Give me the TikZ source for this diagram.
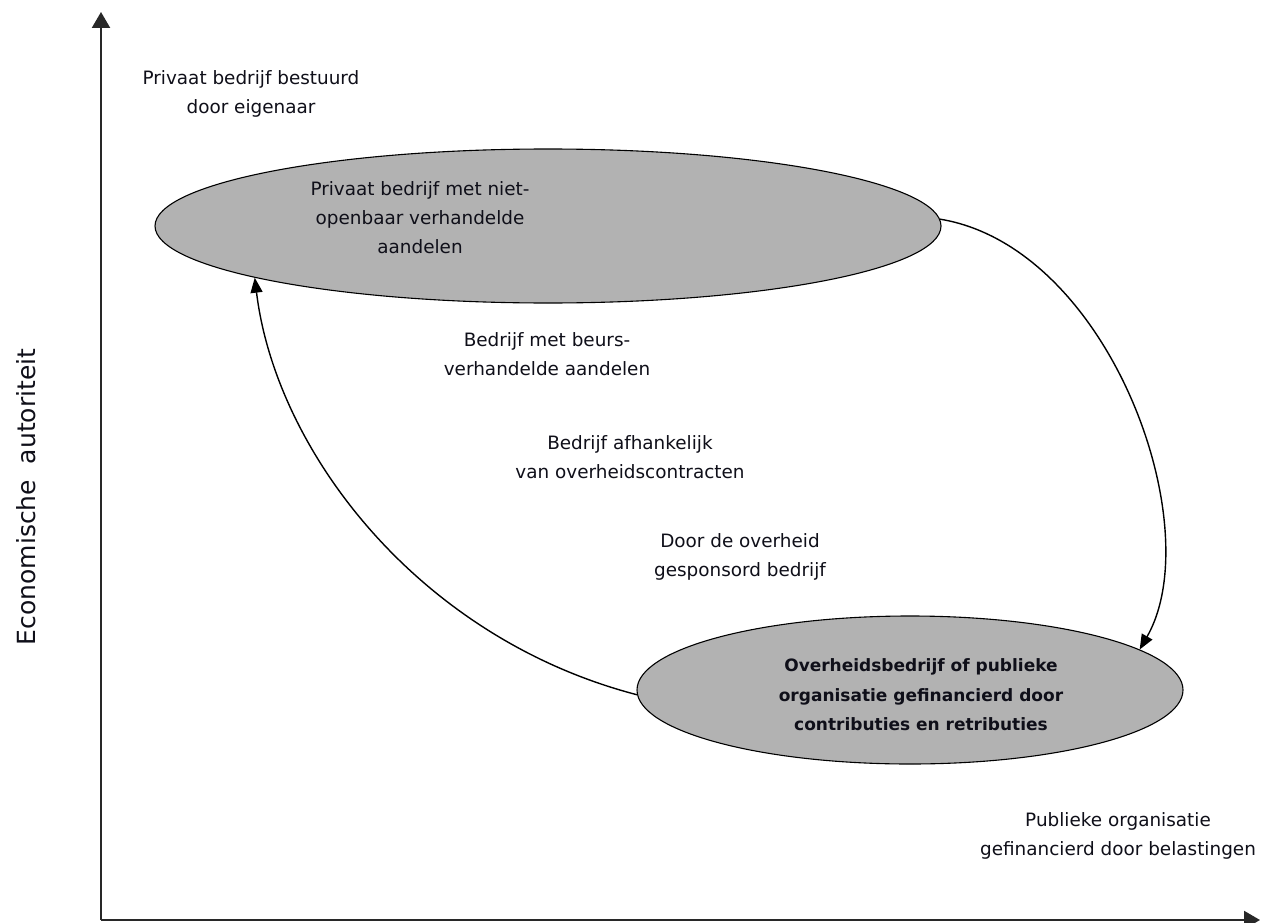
\documentclass[tikz,border=0pt]{standalone}
\usepackage{fontspec}
\setmainfont{DejaVu Sans}
\usetikzlibrary{arrows.meta,shapes.geometric}
\definecolor{ovalgray}{RGB}{178,178,178}
\definecolor{axisgray}{RGB}{40,40,40}
\definecolor{inkcol}{RGB}{15,15,25}

\begin{document}
\begin{tikzpicture}[x=1pt,y=-1pt,
  lbl/.style={align=center, font=\fontsize{18.4}{29}\selectfont, inner sep=0pt, text=inkcol},
  boldlbl/.style={lbl, font=\fontsize{17}{29.5}\selectfont\bfseries},
  oval/.style={ellipse, draw=black, line width=1.1pt, fill=ovalgray, inner sep=0pt},
  axisline/.style={line width=2.2pt, draw=axisgray, -{Triangle[length=16pt,width=18pt]}},
  flow/.style={line width=1.4pt, -{Triangle[length=15pt,width=12pt]}}]
\useasboundingbox (0,0) rectangle (1274,923);

% axes
\coordinate (o) at (101,920);
\coordinate (ytop) at (101,12);
\coordinate (xend) at (1260,920);
\draw[axisline] (o) -- (ytop);
\draw[axisline] (o) -- (xend);
\node[font=\fontsize{25}{30}\selectfont, text=inkcol, rotate=90, inner sep=0pt] (ylab) at (26,497) {Economische\ \ autoriteit};

% the two ovals
\node[oval, minimum width=786pt, minimum height=154pt] (e1) at (548,226) {};
\node[lbl] (e1txt) at (420,218) {Privaat bedrijf met niet-\\openbaar verhandelde\\aandelen};
\node[oval, minimum width=546pt, minimum height=148pt] (e2) at (910,690) {};
\node[boldlbl] (e2txt) at (921,695) {Overheidsbedrijf of publieke\\organisatie gefinancierd door\\contributies en retributies};

% curved transitions
\draw[flow] (e1.1) .. controls +(170,28) and +(70,-122) .. (e2.10);
\draw[flow] (e2.181) .. controls +(-219,-57) and +(21,173) .. (e1.190);

% free labels
\node[lbl] (t1) at (251,94) {Privaat bedrijf bestuurd\\door eigenaar};
\node[lbl] (t2) at (547,354) {Bedrijf met beurs-\\verhandelde aandelen};
\node[lbl] (t3) at (630,457) {Bedrijf afhankelijk\\van overheidscontracten};
\node[lbl] (t4) at (740,557) {Door de overheid\\gesponsord bedrijf};
\node[lbl] (t5) at (1118,836) {Publieke organisatie\\gefinancierd door belastingen};
\end{tikzpicture}
\end{document}
